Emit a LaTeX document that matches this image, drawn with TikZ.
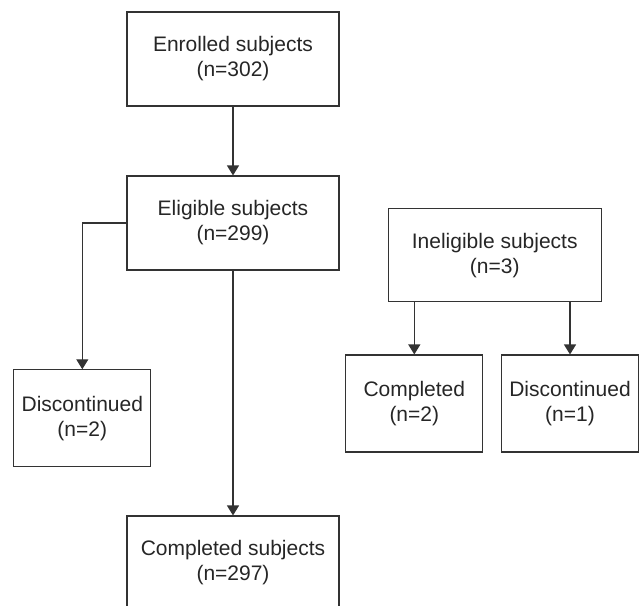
\documentclass[tikz,border=0pt]{standalone}
\usepackage{fontspec}
\setmainfont{Liberation Sans}
\usetikzlibrary{arrows.meta}

\tikzset{
        flowbox/.style = {draw=black!80, line width=1.1pt, align=center, text=black!85,
            font=\fontsize{21}{25}\selectfont, inner sep=0pt},
        wide/.style = {flowbox, minimum width=212pt, minimum height=94pt},
        narrow/.style = {flowbox, minimum width=137pt, minimum height=97pt},
        flowarrow/.style = {draw=black!80, line width=1.1pt, -{Triangle[length=10pt, width=12pt]}}
    }

\begin{document}
\begin{tikzpicture}[x=1pt, y=-1pt]
            \useasboundingbox (0,0) rectangle (639,605);

            % main branch
            \node[wide] (enrolled) at (233,59) {Enrolled subjects\\(n=302)};
            \node[wide] (eligible) at (233,223) {Eligible subjects\\(n=299)};
            \node[narrow] (discont) at (82.3,418.3) {Discontinued\\(n=2)};
            \node[wide, minimum height=93pt] (completed) at (233,562.5) {Completed subjects\\(n=297)};

            % ineligible branch
            \node[wide, minimum width=213pt, minimum height=93pt] (inelig) at (494.7,255.3) {Ineligible subjects\\(n=3)};
            \node[narrow] (inelcomp) at (414.3,403.5) {Completed\\(n=2)};
            \node[narrow] (ineldisc) at (570,403.5) {Discontinued\\(n=1)};

            \draw[flowarrow] (enrolled) -- (eligible);
            \draw[flowarrow] (eligible.west) -| (discont.north);
            \draw[flowarrow] (eligible) -- (completed);

            \foreach \n in {inelcomp,ineldisc} {
                \draw[flowarrow] (\n.north |- inelig.south) -- (\n.north);
            };

        \end{tikzpicture}
\end{document}
